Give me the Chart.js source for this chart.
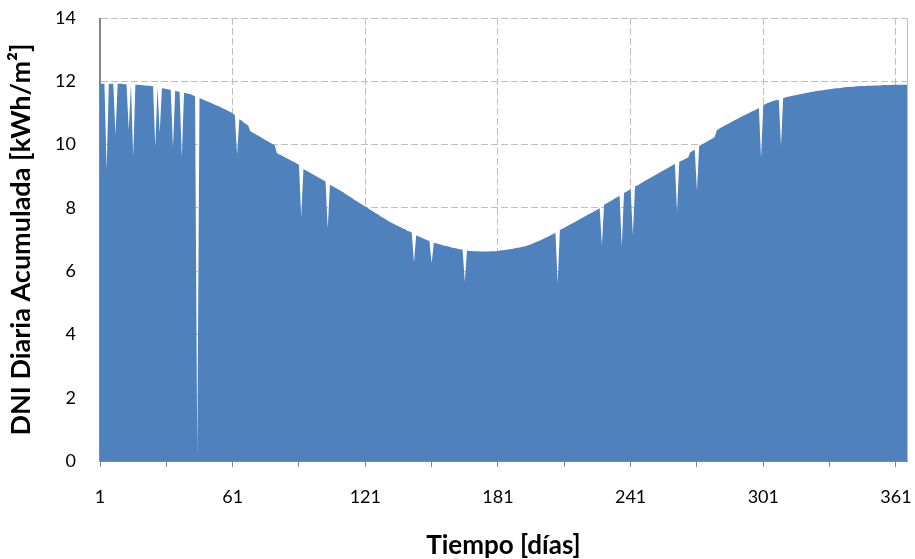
<!DOCTYPE html>
<html>
<head>
<meta charset="utf-8">
<script src="https://cdn.jsdelivr.net/npm/chart.js@4.4.1/dist/chart.umd.min.js"></script>
<style>
  html, body { margin: 0; padding: 0; background: #ffffff; }
  #wrap { width: 915px; height: 559px; }
</style>
</head>
<body>
<div id="wrap"><canvas id="c" width="915" height="559"></canvas></div>
<script>
// Day-of-year categories (1..366)
const days = Array.from({ length: 366 }, (_, i) => String(i + 1));

// Daily accumulated DNI [kWh/m²]
const dni = [
  11.92, 11.92, 11.92, 9.20, 11.92, 11.92, 11.92, 10.30, 11.92, 11.92,
  11.92, 11.91, 11.91, 10.46, 11.90, 9.60, 11.89, 11.89, 11.88, 11.88,
  11.87, 11.87, 11.86, 11.85, 11.84, 9.92, 11.81, 10.37, 11.78, 11.77,
  11.76, 11.74, 11.73, 9.90, 11.70, 11.68, 11.67, 9.60, 11.63, 11.62,
  11.61, 11.59, 11.56, 11.53, 0.15, 11.47, 11.44, 11.41, 11.38, 11.35,
  11.32, 11.29, 11.26, 11.23, 11.20, 11.16, 11.13, 11.10, 11.06, 11.03,
  10.99, 10.93, 9.67, 10.80, 10.76, 10.70, 10.65, 10.60, 10.42, 10.38,
  10.34, 10.30, 10.26, 10.22, 10.18, 10.14, 10.10, 10.06, 10.02, 9.98,
  9.73, 9.69, 9.66, 9.62, 9.58, 9.55, 9.51, 9.47, 9.44, 9.40,
  9.36, 7.70, 9.23, 9.19, 9.15, 9.11, 9.07, 9.03, 8.99, 8.95,
  8.91, 8.87, 8.83, 7.35, 8.73, 8.69, 8.65, 8.61, 8.57, 8.53,
  8.49, 8.44, 8.40, 8.35, 8.31, 8.26, 8.22, 8.17, 8.13, 8.08,
  8.04, 8.00, 7.95, 7.91, 7.86, 7.82, 7.78, 7.73, 7.69, 7.65,
  7.60, 7.56, 7.52, 7.49, 7.45, 7.42, 7.39, 7.35, 7.32, 7.28,
  7.25, 7.22, 6.27, 7.13, 7.10, 7.07, 7.04, 7.01, 6.98, 6.95,
  6.25, 6.90, 6.88, 6.86, 6.84, 6.82, 6.80, 6.79, 6.77, 6.75,
  6.73, 6.72, 6.70, 6.69, 6.68, 5.67, 6.65, 6.64, 6.64, 6.63,
  6.63, 6.63, 6.62, 6.62, 6.62, 6.62, 6.62, 6.63, 6.63, 6.63,
  6.64, 6.65, 6.66, 6.67, 6.68, 6.69, 6.70, 6.71, 6.73, 6.74,
  6.75, 6.77, 6.78, 6.80, 6.83, 6.85, 6.88, 6.91, 6.94, 6.97,
  7.00, 7.04, 7.07, 7.10, 7.14, 7.17, 7.21, 5.62, 7.30, 7.34,
  7.37, 7.41, 7.45, 7.49, 7.52, 7.56, 7.60, 7.64, 7.68, 7.72,
  7.76, 7.80, 7.83, 7.87, 7.91, 7.95, 7.99, 6.83, 8.10, 8.14,
  8.18, 8.22, 8.26, 8.30, 8.34, 8.38, 6.77, 8.47, 8.51, 8.55,
  8.59, 7.14, 8.68, 8.71, 8.75, 8.79, 8.83, 8.87, 8.91, 8.95,
  8.99, 9.03, 9.07, 9.11, 9.15, 9.19, 9.23, 9.27, 9.31, 9.35,
  9.39, 7.88, 9.46, 9.49, 9.52, 9.56, 9.59, 9.76, 9.80, 9.84,
  8.54, 9.96, 9.99, 10.03, 10.07, 10.11, 10.15, 10.19, 10.24, 10.45,
  10.50, 10.54, 10.58, 10.62, 10.65, 10.69, 10.73, 10.77, 10.80, 10.84,
  10.88, 10.91, 10.94, 10.98, 11.01, 11.05, 11.08, 11.12, 11.16, 9.57,
  11.24, 11.28, 11.31, 11.34, 11.37, 11.39, 11.40, 11.42, 9.96, 11.47,
  11.49, 11.51, 11.52, 11.54, 11.55, 11.57, 11.58, 11.60, 11.61, 11.63,
  11.64, 11.65, 11.66, 11.68, 11.69, 11.70, 11.71, 11.72, 11.73, 11.74,
  11.75, 11.76, 11.77, 11.78, 11.78, 11.79, 11.80, 11.81, 11.82, 11.82,
  11.83, 11.83, 11.84, 11.84, 11.85, 11.85, 11.85, 11.86, 11.86, 11.86,
  11.87, 11.87, 11.87, 11.87, 11.88, 11.88, 11.88, 11.88, 11.88, 11.89,
  11.89, 11.89, 11.89, 11.89, 11.89, 11.89
];

// Axis tick labels
const xTickLabels = ['1', '61', '121', '181', '241', '301', '361'];
const xTickMarkEvery = 30;
const yTicks = [0, 2, 4, 6, 8, 10, 12, 14];

const xTitle = 'Tiempo [días]';
const yTitle = 'DNI Diaria Acumulada [kWh/m²]';

const FONT = 'Lato, "Open Sans", "DejaVu Sans", sans-serif';
const GRID = '#BFBFBF';
const AXIS = '#868686';

const axisLines = {
  id: 'axisLines',
  afterDatasetsDraw(chart) {
    const { ctx, chartArea: a } = chart;
    ctx.save();
    ctx.lineWidth = 1;
    ctx.strokeStyle = GRID;
    ctx.beginPath();
    ctx.moveTo(Math.round(a.right) + 0.5, a.top);
    ctx.lineTo(Math.round(a.right) + 0.5, a.bottom);
    ctx.stroke();
    ctx.strokeStyle = AXIS;
    ctx.beginPath();
    ctx.moveTo(Math.round(a.left) - 0.5, a.top);
    ctx.lineTo(Math.round(a.left) - 0.5, Math.round(a.bottom) + 0.5);
    ctx.lineTo(Math.round(a.right) + 1, Math.round(a.bottom) + 0.5);
    ctx.stroke();
    ctx.restore();
  }
};

new Chart(document.getElementById('c'), {
  type: 'line',
  data: {
    labels: days,
    datasets: [{
      data: dni,
      fill: 'origin',
      backgroundColor: '#4F81BD',
      borderColor: '#4F81BD',
      borderWidth: 0,
      pointRadius: 0,
      tension: 0
    }]
  },
  options: {
    responsive: false,
    animation: false,
    layout: { padding: { left: 0, right: 8, top: 18, bottom: 0 } },
    plugins: {
      legend: { display: false },
      tooltip: { enabled: false }
    },
    scales: {
      x: {
        type: 'category',
        offset: false,
        afterBuildTicks(scale) {
          scale.ticks = scale.ticks.filter(t => t.value % xTickMarkEvery === 0);
        },
        afterFit(scale) {
          scale.height = 98;
          scale.paddingLeft = 0;
          scale.paddingRight = 0;
        },
        ticks: {
          autoSkip: false,
          maxRotation: 0,
          minRotation: 0,
          padding: 19,
          color: '#000000',
          font: { family: FONT, size: 18 },
          callback(value) {
            const lab = this.getLabelForValue(value);
            return xTickLabels.includes(lab) ? lab : '';
          }
        },
        grid: {
          drawOnChartArea: true,
          drawTicks: true,
          tickLength: 6,
          tickColor: AXIS,
          lineWidth: 1,
          color(ctx) {
            const v = ctx.tick ? ctx.tick.value : -1;
            return (v > 0 && xTickLabels.includes(days[v])) ? GRID : 'rgba(0,0,0,0)';
          }
        },
        border: { display: true, color: AXIS, dash: [7, 3] },
        title: {
          display: true,
          text: xTitle,
          color: '#000000',
          font: { family: FONT, size: 26, weight: 'bold' },
          padding: { top: 0, bottom: -2 }
        }
      },
      y: {
        min: 0,
        max: 14,
        afterBuildTicks(scale) {
          scale.ticks = yTicks.map(v => ({ value: v }));
        },
        afterFit(scale) {
          scale.width = 100;
          scale.paddingTop = 0;
          scale.paddingBottom = 0;
        },
        ticks: {
          padding: 24,
          color: '#000000',
          font: { family: FONT, size: 18 }
        },
        grid: {
          drawTicks: false,
          color: GRID,
          lineWidth: 1
        },
        border: { display: true, color: AXIS, dash: [7, 3] },
        title: {
          display: true,
          text: yTitle,
          color: '#000000',
          font: { family: FONT, size: 27, weight: 'bold' },
          padding: { top: 5, bottom: 0 }
        }
      }
    }
  },
  plugins: [axisLines]
});
</script>
</body>
</html>
